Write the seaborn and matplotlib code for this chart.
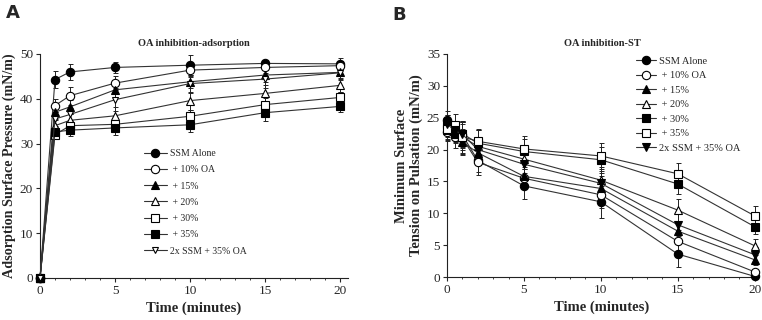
import numpy as np
import pandas as pd
import matplotlib
matplotlib.use("Agg")
import matplotlib.pyplot as plt
import seaborn as sns
from matplotlib.lines import Line2D

sns.set_style("ticks")
plt.rcParams['font.family'] = ['Liberation Serif', 'DejaVu Serif']

# ---------------- Data: panel A ----------------
time_a = [0, 1, 2, 5, 10, 15, 20]
labels_a = ["SSM Alone", " + 10% OA", " + 15%", " + 20%", " + 30%", " + 35%", "2x SSM + 35% OA"]
ssm_a = [0, 44.3, 46.0, 47.0, 47.5, 47.9, 47.8]
oa10_a = [0, 38.5, 40.7, 43.5, 46.4, 47.0, 47.4]
oa15_a = [0, 37.0, 38.2, 42.0, 43.8, 45.3, 45.9]
oa20_a = [0, 34.0, 35.2, 36.2, 39.6, 41.2, 43.0]
oa30_a = [0, 32.0, 34.0, 34.3, 36.1, 38.7, 40.3]
oa35_a = [0, 32.6, 33.0, 33.5, 34.2, 36.9, 38.3]
ssm2x_a = [0, 35.5, 36.5, 39.8, 43.4, 44.4, 45.8]
err_ssm_a = [0, 2.0, 1.8, 1.2, 2.3, 0.8, 1.2]
err_oa10_a = [0, 1.5, 2.0, 1.5, 1.5, 1.2, 1.0]
err_oa15_a = [0, 1.5, 1.5, 1.5, 1.5, 1.5, 1.2]
err_oa20_a = [0, 1.2, 1.5, 2.0, 2.0, 1.8, 1.5]
err_oa30_a = [0, 1.0, 1.2, 1.5, 1.5, 1.5, 1.2]
err_oa35_a = [0, 1.0, 1.2, 1.5, 1.5, 1.8, 1.2]
err_ssm2x_a = [0, 1.5, 1.5, 2.5, 2.0, 2.0, 1.5]

# ---------------- Data: panel B ----------------
time_b = [0, 0.5, 1, 2, 5, 10, 15, 20]
labels_b = ["SSM Alone", " + 10% OA", " + 15%", " + 20%", " + 30%", " + 35%", "2x SSM + 35% OA"]
ssm_b = [24.6, 23.0, 22.3, 18.3, 14.3, 11.8, 3.6, 0.1]
oa10_b = [22.8, 22.0, 21.8, 18.0, 15.5, 12.9, 5.6, 0.8]
oa15_b = [23.5, 22.5, 21.2, 19.5, 15.8, 13.9, 7.2, 2.7]
oa20_b = [23.0, 22.7, 22.0, 20.5, 18.5, 15.2, 10.5, 4.9]
oa30_b = [24.0, 22.8, 22.5, 21.0, 19.7, 18.4, 14.6, 7.9]
oa35_b = [23.2, 23.8, 22.0, 21.3, 20.1, 19.0, 16.2, 9.6]
ssm2x_b = [24.0, 23.0, 22.4, 20.0, 17.7, 14.7, 8.2, 3.5]
err_ssm_b = [1.5, 1.5, 2.0, 1.8, 2.0, 2.5, 2.0, 0.3]
err_oa10_b = [1.5, 1.8, 2.5, 2.0, 1.5, 2.0, 1.8, 0.5]
err_oa15_b = [1.5, 1.5, 2.0, 1.8, 1.5, 2.0, 1.5, 0.8]
err_oa20_b = [1.5, 1.5, 2.0, 2.5, 1.5, 2.0, 1.8, 1.0]
err_oa30_b = [1.5, 1.5, 2.0, 2.0, 2.0, 2.0, 1.5, 1.2]
err_oa35_b = [1.5, 1.8, 2.5, 2.0, 2.0, 2.0, 1.7, 1.5]
err_ssm2x_b = [1.5, 1.5, 2.0, 2.0, 2.0, 2.0, 1.8, 1.2]

series_a = [ssm_a, oa10_a, oa15_a, oa20_a, oa30_a, oa35_a, ssm2x_a]
errs_a = [err_ssm_a, err_oa10_a, err_oa15_a, err_oa20_a, err_oa30_a, err_oa35_a, err_ssm2x_a]
series_b = [ssm_b, oa10_b, oa15_b, oa20_b, oa30_b, oa35_b, ssm2x_b]
errs_b = [err_ssm_b, err_oa10_b, err_oa15_b, err_oa20_b, err_oa30_b, err_oa35_b, err_ssm2x_b]

# styles: (marker, facecolor, size)
styles_a = [("o", "black", 6), ("o", "white", 6), ("^", "black", 5.5), ("^", "white", 5.5),
            ("s", "white", 5.5), ("s", "black", 5.5), ("v", "white", 4)]
styles_b = [("o", "black", 6), ("o", "white", 6), ("^", "black", 5.5), ("^", "white", 5.5),
            ("s", "black", 5.5), ("s", "white", 5.5), ("v", "black", 6)]

fig = plt.figure(figsize=(7.62, 3.2), dpi=100)
axA = fig.add_axes([40/762, 1-278/320, 308/762, 224/320])
axB = fig.add_axes([447/762, 1-277/320, 310/762, 223/320])

LINE = "#333333"


def draw(ax, t, series, errs, labels, styles):
    for i, (vals, e, lab, st) in enumerate(zip(series, errs, labels, styles)):
        m, fc, ms = st
        df = pd.DataFrame({"t": t, "v": vals})
        ax.errorbar(t, vals, yerr=e, fmt="none", ecolor="#222222", elinewidth=0.7,
                    capsize=1.8, capthick=0.7, zorder=2, clip_on=False)
        sns.lineplot(data=df, x="t", y="v", ax=ax, color=LINE, linewidth=0.8,
                     marker=m, markersize=ms, markerfacecolor=fc, markeredgecolor="black",
                     markeredgewidth=0.8, legend=False, zorder=3 + i * 0.01, clip_on=False)


draw(axA, time_a, series_a, errs_a, labels_a, styles_a)
draw(axB, time_b, series_b, errs_b, labels_b, styles_b)

for ax in (axA, axB):
    sns.despine(ax=ax)
    ax.tick_params(axis="both", labelsize=9.5, direction="out", length=3, width=0.8, pad=2)
    ax.tick_params(axis="both", which="minor", length=1.5, width=0.6)
    ax.set_xticks([0, 5, 10, 15, 20])
    ax.set_xticks(np.arange(0, 21, 1), minor=True)
    ax.set_xlabel("Time (minutes)", fontsize=10.5, fontweight="bold", labelpad=3)
    for s in ("left", "bottom"):
        ax.spines[s].set_linewidth(0.8)
        ax.spines[s].set_color("#222222")

axA.set_xlim(0, 20.53)
axA.set_ylim(0, 50)
axA.set_yticks([0, 10, 20, 30, 40, 50])
axA.set_ylabel("Adsorption Surface Pressure (mN/m)", fontsize=10.2, fontweight="bold", labelpad=3)
axA.set_title("OA inhibition-adsorption", fontsize=7.5, fontweight="bold", pad=6)

axB.set_xlim(0, 20.15)
axB.set_ylim(0, 35)
axB.set_yticks([0, 5, 10, 15, 20, 25, 30, 35])
axB.set_ylabel("Minimum Surface\nTension on Pulsation (mN/m)", fontsize=10.5, fontweight="bold",
               labelpad=3, linespacing=1.1)
axB.set_title("OA inhibition-ST", fontsize=7.5, fontweight="bold", pad=6)


def handles(styles):
    hs = []
    for m, fc, ms in styles:
        hs.append(Line2D([], [], color=LINE, lw=0.8, marker=m, markersize=ms,
                         markerfacecolor=fc, markeredgecolor="black", markeredgewidth=0.8))
    return hs


legA = axA.legend(handles(styles_a), labels_a, frameon=False, fontsize=7, handlelength=2.3,
                  handletextpad=0.3, labelspacing=0.75, loc="upper left",
                  bbox_to_anchor=(0.31, 0.615))
legB = axB.legend(handles(styles_b), labels_b, frameon=False, fontsize=7.5, handlelength=1.9,
                  handletextpad=0.3, labelspacing=0.5, loc="upper left",
                  bbox_to_anchor=(0.58, 1.03))

fig.text(6/762, 1-4/320, "A", fontsize=13, fontweight="bold", family="DejaVu Sans", va="top")
fig.text(392/762, 1-6/320, "B", fontsize=13, fontweight="bold", family="DejaVu Sans", va="top")

fig.savefig("out.png", dpi=100)
